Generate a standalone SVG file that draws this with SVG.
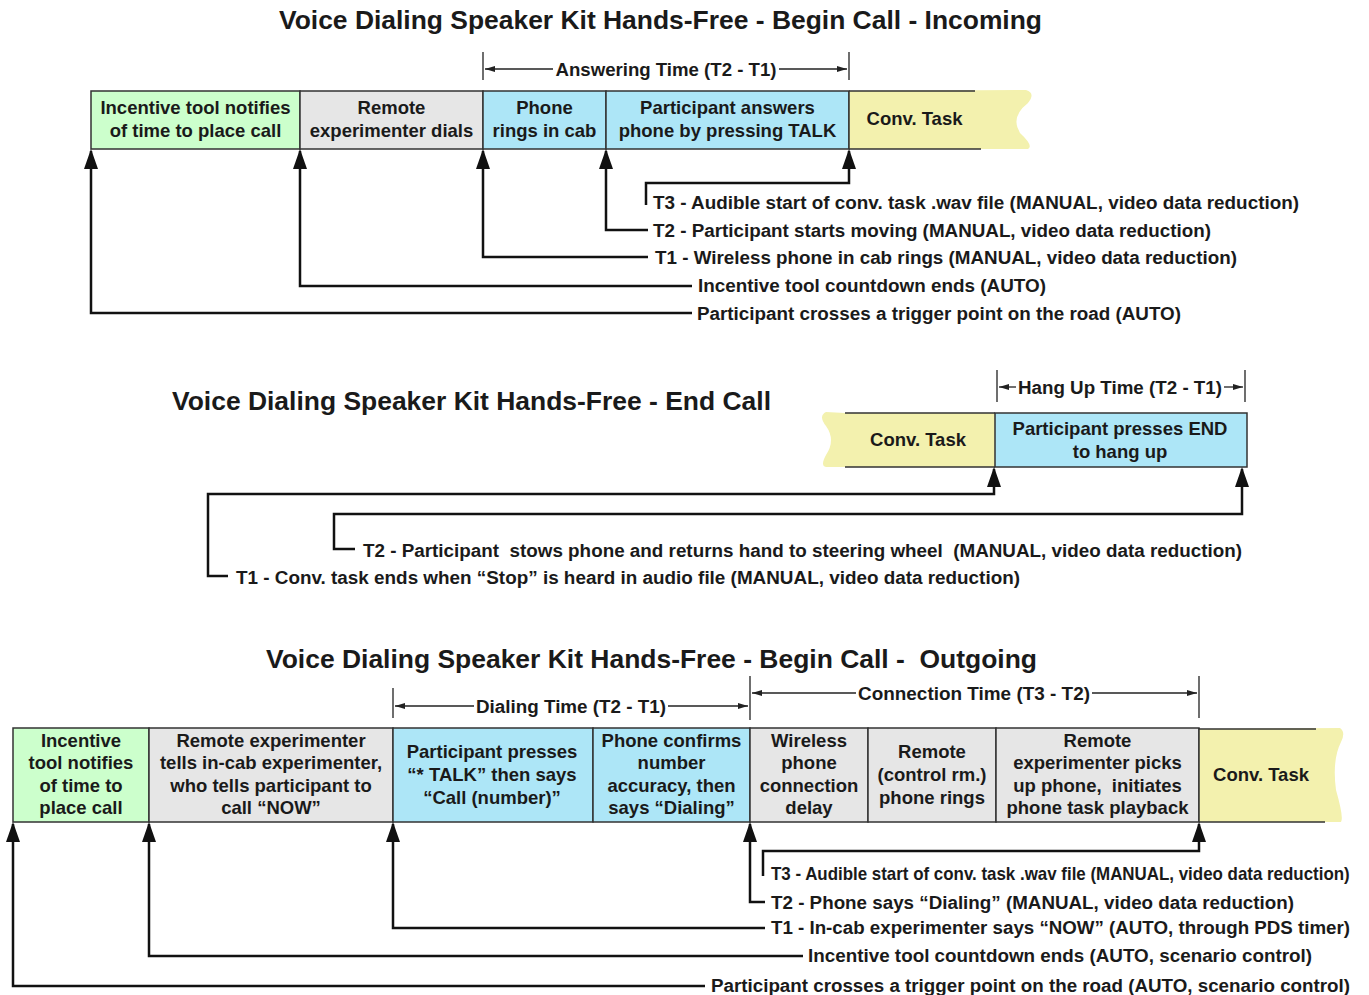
<svg xmlns="http://www.w3.org/2000/svg" width="1369" height="995" viewBox="0 0 1369 995">
<style>
text{font-family:"Liberation Sans",Arial,sans-serif;font-weight:bold;fill:#1a1a1a;white-space:pre}
.title{font-size:26px;text-anchor:middle}
.bt{font-size:18.5px;text-anchor:middle}
.lbl{font-size:18px}
.dim{font-size:18px;text-anchor:middle}
.box{stroke:#333;stroke-width:1.5}
.g{fill:#ccffcc}.y{fill:#e6e6e6}.b{fill:#ade6f7}.c{fill:#f3f1ae}
.conn{fill:none;stroke:#111;stroke-width:2.5;marker-end:url(#ah)}
.dl{fill:none;stroke:#222;stroke-width:1.3}
.da{fill:none;stroke:#222;stroke-width:1.3;marker-end:url(#sa)}
</style>
<defs>
<marker id="ah" viewBox="0 0 20 14" refX="18" refY="7" markerWidth="20" markerHeight="14" markerUnits="userSpaceOnUse" orient="auto"><path d="M0,0 L20,7 L0,14 z" fill="#111"/></marker>
<marker id="sa" viewBox="0 0 10 6" refX="10" refY="3" markerWidth="10" markerHeight="6" markerUnits="userSpaceOnUse" orient="auto"><path d="M0,0 L10,3 L0,6 z" fill="#222"/></marker>
</defs>
<rect width="1369" height="995" fill="#fff"/>

<text class="title" x="660.5" y="29" textLength="763" lengthAdjust="spacingAndGlyphs">Voice Dialing Speaker Kit Hands-Free - Begin Call - Incoming</text>
<text class="title" x="471.5" y="410" textLength="599" lengthAdjust="spacingAndGlyphs">Voice Dialing Speaker Kit Hands-Free - End Call</text>
<text class="title" x="651.5" y="668" textLength="771" lengthAdjust="spacingAndGlyphs" xml:space="preserve">Voice Dialing Speaker Kit Hands-Free - Begin Call -  Outgoing</text>

<g id="dimensions">
<path class="dl" d="M483,52 V80 M849,52 V80"/>
<path class="da" d="M553,69 H485"/><path class="da" d="M779,69 H847"/>
<text class="dim" x="666" y="75.5" textLength="221" lengthAdjust="spacingAndGlyphs">Answering Time (T2 - T1)</text>
<path class="dl" d="M997,370 V402 M1245,370 V402"/>
<path class="da" d="M1016,387 H999"/><path class="da" d="M1224,387 H1243"/>
<text class="dim" x="1120" y="393.5" textLength="204" lengthAdjust="spacingAndGlyphs">Hang Up Time (T2 - T1)</text>
<path class="dl" d="M393,688 V718 M750,676 V720 M1199,676 V718"/>
<path class="da" d="M474,706 H395"/><path class="da" d="M668,706 H748"/>
<text class="dim" x="571" y="712.5" textLength="190" lengthAdjust="spacingAndGlyphs">Dialing Time (T2 - T1)</text>
<path class="da" d="M856,693 H752"/><path class="da" d="M1092,693 H1197"/>
<text class="dim" x="974" y="699.5" textLength="232" lengthAdjust="spacingAndGlyphs">Connection Time (T3 - T2)</text>
</g>

<g id="in-incentive"><rect class="box g" x="91" y="91" width="209" height="58"/><text class="bt" x="195.5" y="113.5">Incentive tool notifies</text><text class="bt" x="195.5" y="136.5">of time to place call</text></g>
<g id="in-remote"><rect class="box y" x="300" y="91" width="183" height="58"/><text class="bt" x="391.5" y="113.5">Remote</text><text class="bt" x="391.5" y="136.5">experimenter dials</text></g>
<g id="in-phone"><rect class="box b" x="483" y="91" width="123" height="58"/><text class="bt" x="544.5" y="113.5">Phone</text><text class="bt" x="544.5" y="136.5">rings in cab</text></g>
<g id="in-answer"><rect class="box b" x="606" y="91" width="243" height="58"/><text class="bt" x="727.5" y="113.5">Participant answers</text><text class="bt" x="727.5" y="136.5">phone by pressing TALK</text></g>
<g id="in-conv"><path class="c" d="M849,91 L1026,90 Q1036,93 1028,103 Q1010,117 1020,133 Q1034,146 1028,149 L849,149 Z"/><path d="M849,91 H975 M849,149 H981 M849,91 V149" stroke="#333" stroke-width="1.5" fill="none"/><text class="bt" x="914.5" y="124.5">Conv. Task</text></g>

<g id="end-conv"><path class="c" d="M845,413 L826,412 Q818,416 826,426 Q836,440 826,455 Q820,466 826,467 L995,467 L995,413 Z"/><path d="M845,413 H995 M845,467 H995" stroke="#333" stroke-width="1.5" fill="none"/><text class="bt" x="918" y="445.5">Conv. Task</text></g>
<g id="end-press"><rect class="box b" x="995" y="413" width="252" height="54"/><text class="bt" x="1120" y="434.5">Participant presses END</text><text class="bt" x="1120" y="457.5">to hang up</text></g>

<g id="out-incentive"><rect class="box g" x="13" y="728" width="136" height="94"/><text class="bt" x="81" y="746.5">Incentive</text><text class="bt" x="81" y="769">tool notifies</text><text class="bt" x="81" y="791.5">of time to</text><text class="bt" x="81" y="814">place call</text></g>
<g id="out-remote"><rect class="box y" x="149" y="728" width="244" height="94"/><text class="bt" x="271" y="746.5">Remote experimenter</text><text class="bt" x="271" y="769">tells in-cab experimenter,</text><text class="bt" x="271" y="791.5">who tells participant to</text><text class="bt" x="271" y="814">call “NOW”</text></g>
<g id="out-press"><rect class="box b" x="393" y="728" width="200" height="94"/><text class="bt" x="492" y="757.5">Participant presses</text><text class="bt" x="492" y="780.5">“* TALK” then says</text><text class="bt" x="492" y="803.5">“Call (number)”</text></g>
<g id="out-confirm"><rect class="box b" x="593" y="728" width="157" height="94"/><text class="bt" x="671.5" y="746.5">Phone confirms</text><text class="bt" x="671.5" y="769">number</text><text class="bt" x="671.5" y="791.5">accuracy, then</text><text class="bt" x="671.5" y="814">says “Dialing”</text></g>
<g id="out-wireless"><rect class="box y" x="750" y="728" width="118" height="94"/><text class="bt" x="809" y="746.5">Wireless</text><text class="bt" x="809" y="769">phone</text><text class="bt" x="809" y="791.5">connection</text><text class="bt" x="809" y="814">delay</text></g>
<g id="out-rings"><rect class="box y" x="868" y="728" width="128" height="94"/><text class="bt" x="932" y="757.5">Remote</text><text class="bt" x="932" y="780.5">(control rm.)</text><text class="bt" x="932" y="803.5">phone rings</text></g>
<g id="out-pickup"><rect class="box y" x="996" y="728" width="203" height="94"/><text class="bt" x="1097.5" y="746.5">Remote</text><text class="bt" x="1097.5" y="769">experimenter picks</text><text class="bt" x="1097.5" y="791.5" xml:space="preserve">up phone,  initiates</text><text class="bt" x="1097.5" y="814">phone task playback</text></g>
<g id="out-conv"><path class="c" d="M1199,729 L1340,728 Q1346,732 1341,742 Q1332,760 1336,790 Q1344,818 1341,822 L1199,822 Z"/><path d="M1199,729 H1316 M1199,822 H1325 M1199,728 V822" stroke="#333" stroke-width="1.5" fill="none"/><text class="bt" x="1261" y="780.5">Conv. Task</text></g>

<g id="connectors">
<path class="conn" d="M646,205 V183 H849 V151"/>
<path class="conn" d="M648,230 H606 V151"/>
<path class="conn" d="M648,257 H483 V151"/>
<path class="conn" d="M692,286 H300 V151"/>
<path class="conn" d="M692,313 H91 V151"/>
<path class="conn" d="M228,576 H208 V494 H994 V469"/>
<path class="conn" d="M355,549 H334 V514 H1242 V469"/>
<path class="conn" d="M763,876 V851 H1199 V824"/>
<path class="conn" d="M765,902 H750 V824"/>
<path class="conn" d="M765,928 H393 V824"/>
<path class="conn" d="M803,956 H149 V824"/>
<path class="conn" d="M705,986 H13 V824"/>
</g>

<g id="labels">
<text class="lbl" x="653" y="208.5" textLength="646" lengthAdjust="spacingAndGlyphs">T3 - Audible start of conv. task .wav file (MANUAL, video data reduction)</text>
<text class="lbl" x="653" y="236.5" textLength="558" lengthAdjust="spacingAndGlyphs">T2 - Participant starts moving (MANUAL, video data reduction)</text>
<text class="lbl" x="655" y="263.5" textLength="582" lengthAdjust="spacingAndGlyphs">T1 - Wireless phone in cab rings (MANUAL, video data reduction)</text>
<text class="lbl" x="698" y="291.5" textLength="348" lengthAdjust="spacingAndGlyphs">Incentive tool countdown ends (AUTO)</text>
<text class="lbl" x="697" y="319.5" textLength="484" lengthAdjust="spacingAndGlyphs">Participant crosses a trigger point on the road (AUTO)</text>
<text class="lbl" x="363" y="556.5" textLength="879" lengthAdjust="spacingAndGlyphs" xml:space="preserve">T2 - Participant  stows phone and returns hand to steering wheel  (MANUAL, video data reduction)</text>
<text class="lbl" x="236" y="583.5" textLength="784" lengthAdjust="spacingAndGlyphs">T1 - Conv. task ends when “Stop” is heard in audio file (MANUAL, video data reduction)</text>
<text class="lbl" transform="translate(771,879.5) scale(0.9,1)" x="0" y="0" textLength="643" lengthAdjust="spacingAndGlyphs">T3 - Audible start of conv. task .wav file (MANUAL, video data reduction)</text>
<text class="lbl" x="771" y="908.5" textLength="523" lengthAdjust="spacingAndGlyphs">T2 - Phone says “Dialing” (MANUAL, video data reduction)</text>
<text class="lbl" x="771" y="933.5" textLength="579" lengthAdjust="spacingAndGlyphs">T1 - In-cab experimenter says “NOW” (AUTO, through PDS timer)</text>
<text class="lbl" x="808" y="961.5" textLength="504" lengthAdjust="spacingAndGlyphs">Incentive tool countdown ends (AUTO, scenario control)</text>
<text class="lbl" x="711" y="991.5" textLength="639" lengthAdjust="spacingAndGlyphs">Participant crosses a trigger point on the road (AUTO, scenario control)</text>
</g>
</svg>
